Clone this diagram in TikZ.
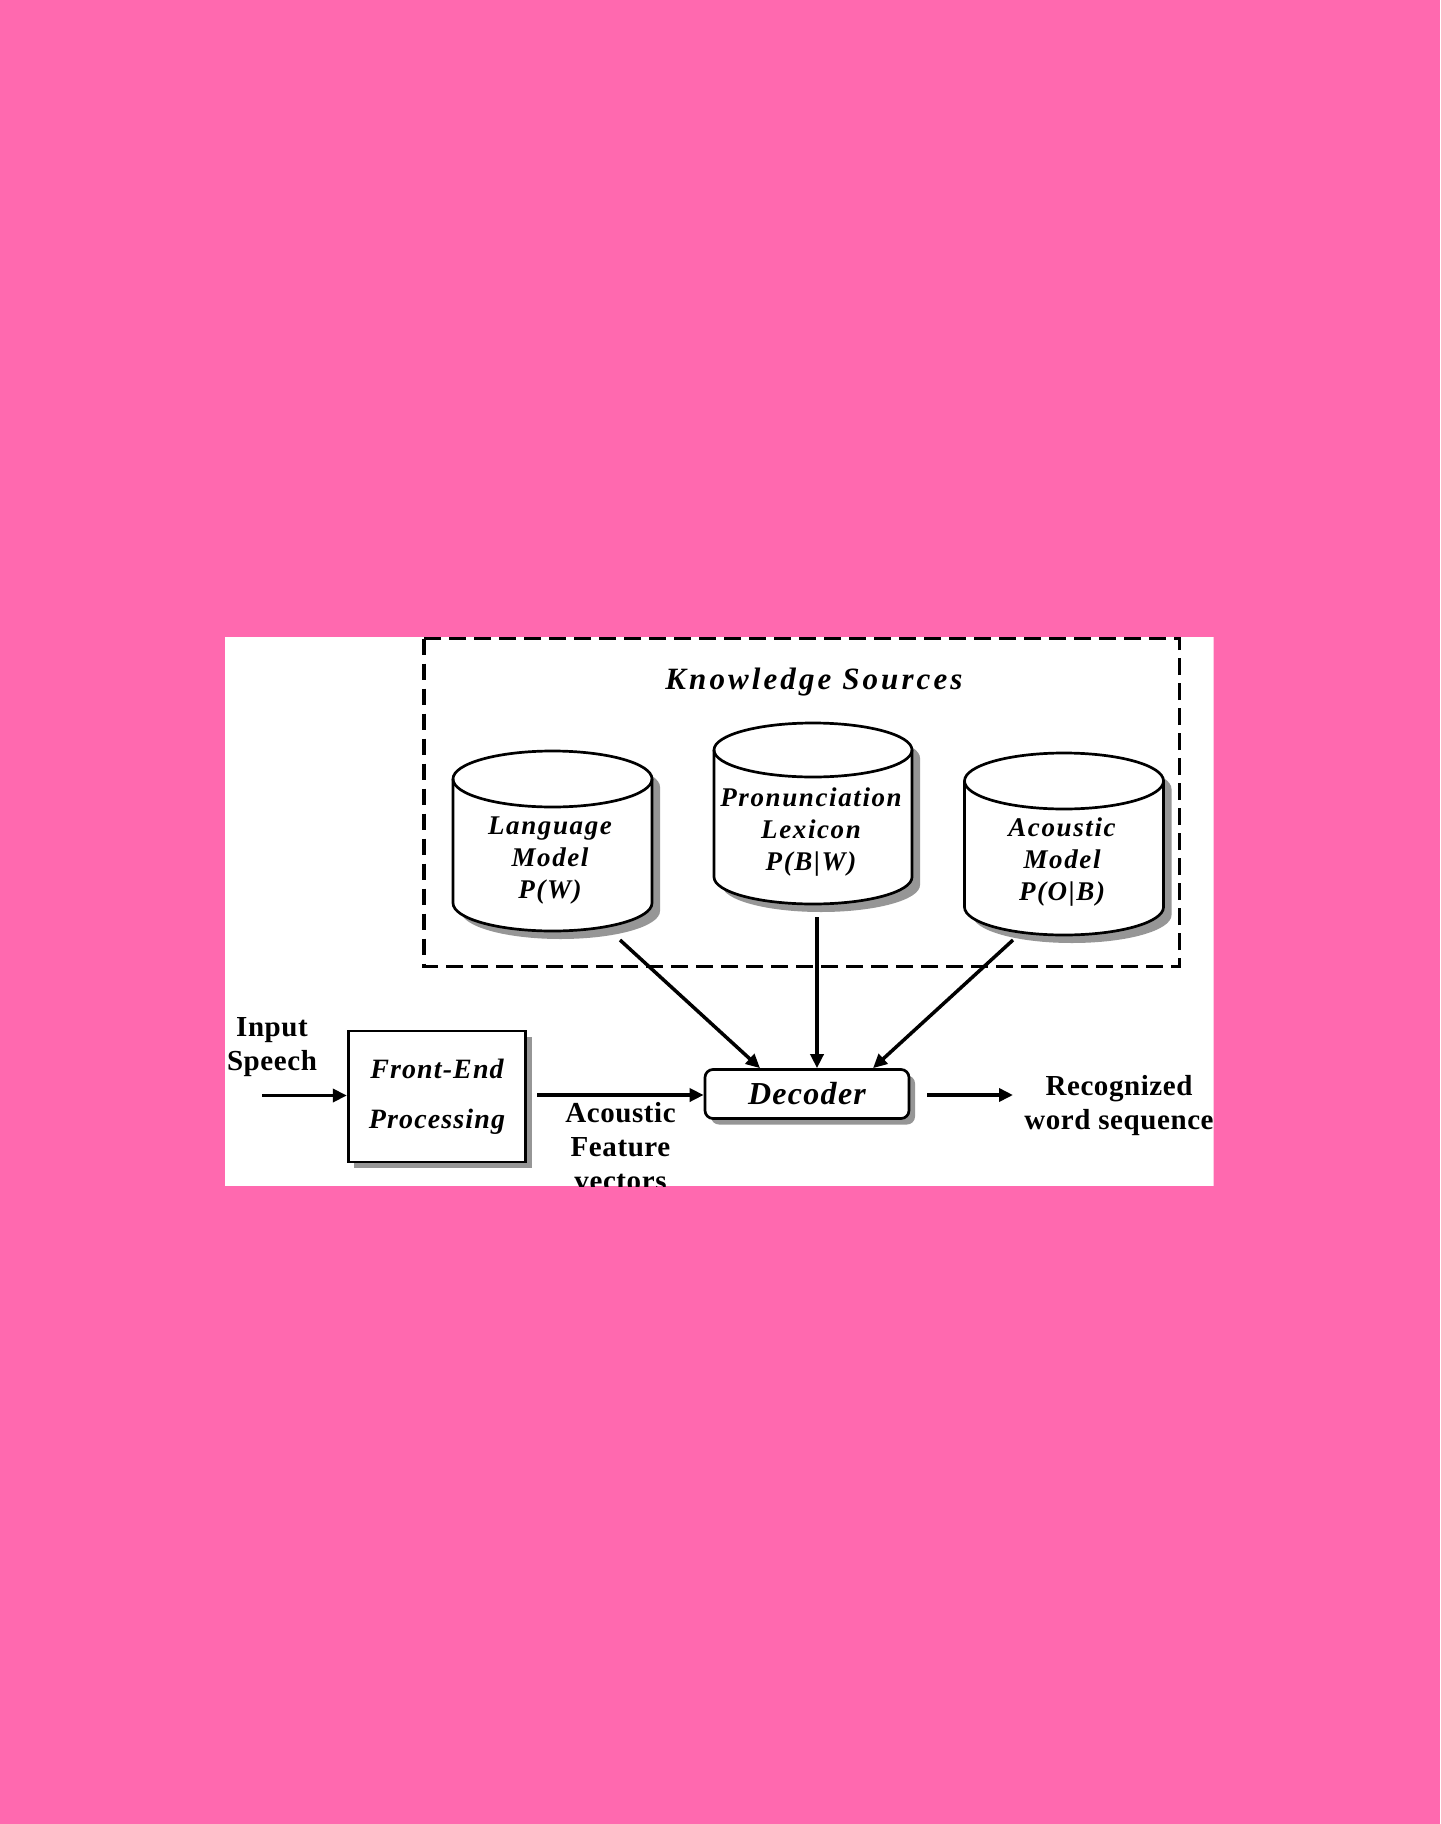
\documentclass[tikz,border=0pt]{standalone}
\usepackage{fontspec}
\setmainfont{Liberation Serif}
\newfontfamily\ksfont[LetterSpace=10]{Liberation Serif}
\newfontfamily\cylfont[LetterSpace=6]{Liberation Serif}
\newfontfamily\decfont[LetterSpace=4]{Liberation Serif}
\newfontfamily\fefont[LetterSpace=4]{Liberation Serif}
\newfontfamily\lblfont[LetterSpace=2]{Liberation Serif}
\usetikzlibrary{arrows.meta,calc,shadows}
\definecolor{bgpink}{RGB}{255,105,175}
\definecolor{shgray}{RGB}{150,150,150}

\newcommand\cylshape[6]{%
  \path[#6] (\cxa,#3) -- (\cxa,#4)
    .. controls (\cxa,{#4+\ky}) and ({#1-\kx},{#4+#5}) .. (#1,{#4+#5})
    .. controls ({#1+\kx},{#4+#5}) and (\cxb,{#4+\ky}) .. (\cxb,#4)
    -- (\cxb,#3)
    .. controls (\cxb,{#3-\ky}) and ({#1+\kx},{#3-#5}) .. (#1,{#3-#5})
    .. controls ({#1-\kx},{#3-#5}) and (\cxa,{#3-\ky}) .. (\cxa,#3) -- cycle;}
\newcommand\mycyl[5]{% cx, rx, top cy, bottom cy, ry
  \pgfmathsetmacro\cxa{#1-#2}%
  \pgfmathsetmacro\cxb{#1+#2}%
  \pgfmathsetmacro\kx{0.5523*#2}%
  \pgfmathsetmacro\ky{0.5523*#5}%
  \cylshape{#1}{#2}{#3}{#4}{#5}{fill=shgray,shift={(8,8)}}%
  \cylshape{#1}{#2}{#3}{#4}{#5}{draw,cylline,fill=white}%
  \draw[cylline] (\cxa,#3) .. controls (\cxa,{#3+\ky}) and ({#1-\kx},{#3+#5}) .. (#1,{#3+#5})
    .. controls ({#1+\kx},{#3+#5}) and (\cxb,{#3+\ky}) .. (\cxb,#3);}

\begin{document}
\begin{tikzpicture}[x=0.5pt,y=-0.5pt,
  cylline/.style={line width=1.35pt,line join=round},
  ar/.style={line width=1.75pt,-{Triangle[length=7pt,width=6.5pt]}},
  cyltext/.style={font={\cylfont\bfseries\itshape\fontsize{13.5pt}{16pt}\selectfont},align=center,inner sep=0pt},
  lbl/.style={font={\lblfont\bfseries\fontsize{14.5pt}{17pt}\selectfont},align=center,inner sep=0pt},
  boxshadow/.style={drop shadow={shadow xshift=3pt,shadow yshift=-3pt,fill=shgray,opacity=1}},
  febox/.style={draw,line width=1.35pt,fill=white,boxshadow,minimum width=88.8pt,minimum height=65.6pt,inner sep=0pt,align=center,
    font={\fefont\bfseries\itshape\fontsize{14pt}{25pt}\selectfont}},
  decbox/.style={draw,line width=1.35pt,fill=white,boxshadow,rounded corners=4pt,minimum width=102pt,minimum height=24.5pt,inner sep=0pt,
    font={\decfont\bfseries\itshape\fontsize{16pt}{18pt}\selectfont}},
  ksbox/.style={line width=1.6pt,dash pattern=on 8.3pt off 4.2pt}
]
\useasboundingbox (0,0) rectangle (1440,1824);
\fill[bgpink] (0,0) rectangle (1440,1824);
\begin{scope}
\clip (225,636.5) rectangle (1213.5,1186);
\fill[white] (225,636.5) rectangle (1213.5,1186);

% knowledge sources box
\draw[ksbox] (424,638.5) rectangle (1179.5,966.5);
\node[font={\ksfont\bfseries\itshape\fontsize{15.5pt}{18pt}\selectfont},inner sep=0pt] (kst) at (814,682) {Knowledge Sources};

% cylinders
\mycyl{552.5}{99.5}{779}{903}{28}
\mycyl{813}{99}{750}{877}{27}
\mycyl{1064}{99.5}{781}{907}{28}
\node[cyltext] (lm) at (550,861) {Language\\Model\\P(W)};
\node[cyltext] (pl) at (811,832) {Pronunciation\\Lexicon\\P(B|W)};
\node[cyltext] (am) at (1062,862) {Acoustic\\Model\\P(O|B)};

% processing boxes
\node[febox] (fe) at (437,1096.5) {Front-End\\Processing};
\node[decbox] (dec) at (807,1094) {Decoder};

% labels
\node[lbl] (inlbl) at (272,1047.5) {Input\\Speech};
\node[lbl] (aflbl) at (620.5,1147) {Acoustic\\Feature\\vectors};
\node[lbl] (rwlbl) at (1119,1106) {Recognized\\word sequence};

% connectors
\coordinate (inp) at (262,1095.5);
\coordinate (lmo) at (620,940);
\coordinate (plo) at (817,917);
\coordinate (amo) at (1013,940);
\coordinate (outend) at (1013,1095);
\draw[ar] (inp) -- (inp -| fe.west);
\draw[ar] ($(fe.east |- dec.west)+(10,1)$) -- ($(dec.west)+(0,1)$);
\draw[ar] ($(dec.east)+(17,1)$) -- ($(outend |- dec.east)+(0,1)$);
\draw[ar] (lmo) -- ($(dec.north)+(-47,0)$);
\draw[ar] (plo) -- (plo |- dec.north);
\draw[ar] (amo) -- ($(dec.north)+(66,0)$);
\end{scope}
\end{tikzpicture}
\end{document}
